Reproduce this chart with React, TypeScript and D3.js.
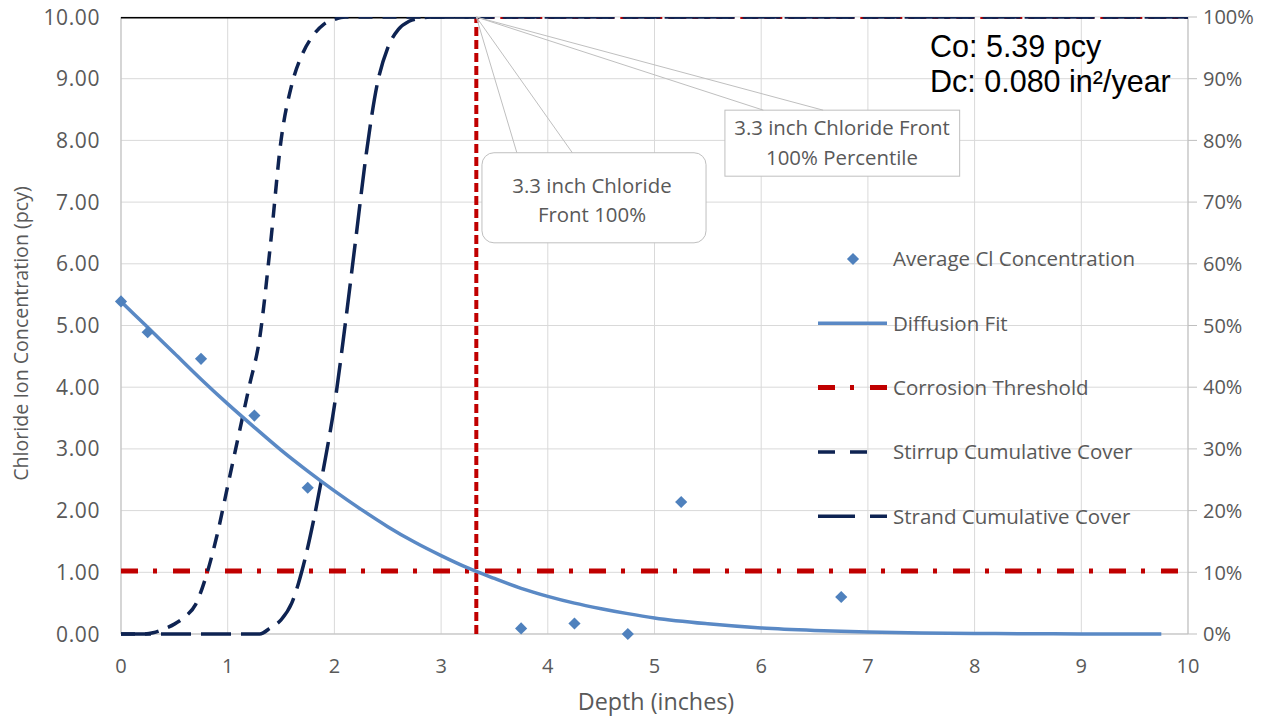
import * as d3 from "d3";

// measured average chloride content per depth
const sampleDepth = [0, 0.25, 0.75, 1.25, 1.75, 3.75, 4.25, 4.75, 5.25, 6.75];
const sampleConc = [5.39, 4.89, 4.46, 3.54, 2.37, 0.09, 0.17, 0.0, 2.14, 0.6];

// diffusion fit curve
const fitDepth = [0, 0.25, 0.5, 0.75, 1, 1.25, 1.5, 1.75, 2, 2.25, 2.5, 2.75, 3, 3.25, 3.5, 3.75, 4, 4.25, 4.5, 4.75, 5, 5.5, 6, 6.5, 7, 7.5, 8, 8.5, 9, 9.75];
const fitConc = [5.39, 4.97, 4.55, 4.13, 3.73, 3.35, 2.98, 2.64, 2.32, 2.02, 1.74, 1.49, 1.27, 1.07, 0.9, 0.74, 0.61, 0.5, 0.41, 0.33, 0.26, 0.165, 0.098, 0.058, 0.032, 0.017, 0.009, 0.004, 0.002, 0];

// cumulative cover distributions (right axis, %)
const cumDepth = [0, 0.1, 0.2, 0.3, 0.4, 0.5, 0.6, 0.7, 0.8, 0.9, 1.0, 1.1, 1.2, 1.3, 1.4, 1.5, 1.6, 1.7, 1.8, 1.9, 2.0, 2.1, 2.2, 2.3, 2.4, 2.5, 2.6, 2.7, 2.8, 2.9, 3.0, 4, 5, 6, 7, 8, 9, 10];
const stirrupPct = [0, 0, 0, 0.2, 0.8, 1.6, 2.8, 4.8, 9.5, 16, 24, 32, 40, 48, 63, 80, 89, 94, 97, 98.8, 99.6, 100, 100, 100, 100, 100, 100, 100, 100, 100, 100, 100, 100, 100, 100, 100, 100, 100];
const strandPct = [0, 0, 0, 0, 0, 0, 0, 0, 0, 0, 0, 0, 0, 0, 1.0, 2.3, 5, 10.5, 18, 27, 37, 50, 64, 78, 89, 95, 98, 99.3, 99.8, 100, 100, 100, 100, 100, 100, 100, 100, 100];

const threshold = 1.02;
const frontDepth = 3.33;
const Co = "5.39";
const Dc = "0.080";

const xTicks = [0, 1, 2, 3, 4, 5, 6, 7, 8, 9, 10];
const yTicks = [0, 1, 2, 3, 4, 5, 6, 7, 8, 9, 10];
const pctTicks = [0, 10, 20, 30, 40, 50, 60, 70, 80, 90, 100];

const legendItems = [
  "Average Cl Concentration",
  "Diffusion Fit",
  "Corrosion Threshold",
  "Stirrup Cumulative Cover",
  "Strand Cumulative Cover",
];

const W = 1268;
const H = 716;
const left = 121;
const right = 1188;
const top = 17;
const bottom = 634;

const blue = "#4f81bd";
const fitBlue = "#5a89c5";
const navy = "#0e2352";
const red = "#c00000";
const grid = "#d9d9d9";
const textGrey = "#595959";
const font = "'Open Sans', Lato, sans-serif";

export default function App() {
  const x = d3.scaleLinear().domain([0, 10]).range([left, right]);
  const y = d3.scaleLinear().domain([0, 10]).range([bottom, top]);
  const yPct = d3.scaleLinear().domain([0, 100]).range([bottom, top]);

  const fitLine = d3
    .line<number>()
    .x((d) => x(d))
    .y((_, i) => y(fitConc[i]))
    .curve(d3.curveMonotoneX);
  const cumLine = (vals: number[]) =>
    d3
      .line<number>()
      .x((d) => x(d))
      .y((_, i) => yPct(vals[i]))
      .curve(d3.curveMonotoneX)(cumDepth) || undefined;

  const diamond = d3.symbol(d3.symbolSquare, 74)() || undefined;

  const tipX = x(frontDepth);
  const tipY = y(10);

  // callout boxes (in data units so they sit with the chart)
  const b1 = { x0: x(3.383), x1: x(5.483), y0: y(7.8), y1: y(6.34) };
  const b2 = { x0: x(5.66), x1: x(7.86), y0: y(8.49), y1: y(7.42) };

  const legX = 818;
  const legY0 = 259;
  const legStep = 64.3;

  return (
    <svg
      width={W}
      height={H}
      style={{ position: "absolute", left: 0, top: 0, background: "#fff" }}
      fontFamily={font}
    >
      <defs>
        <clipPath id="plot">
          <rect x={left} y={top} width={right - left} height={bottom - top + 3} />
        </clipPath>
      </defs>
      {/* gridlines */}
      <g stroke={grid} strokeWidth={1}>
        {yTicks.map((t) => (
          <line key={"h" + t} x1={left} x2={right} y1={y(t)} y2={y(t)} />
        ))}
        {xTicks.map((t) => (
          <line key={"v" + t} x1={x(t)} x2={x(t)} y1={top} y2={bottom} />
        ))}
      </g>
      {/* axis lines */}
      <g stroke="#bfbfbf" strokeWidth={1}>
        <line x1={left} x2={left} y1={top} y2={bottom} />
        <line x1={right} x2={right} y1={top} y2={bottom} />
        <line x1={left} x2={right} y1={bottom} y2={bottom} />
        {pctTicks.map((t) => (
          <line key={t} x1={right} x2={right + 9} y1={yPct(t)} y2={yPct(t)} />
        ))}
      </g>

      {/* left ticks */}
      <g fill={textGrey} fontSize={21} letterSpacing={0.6} textAnchor="end">
        {yTicks.map((t) => (
          <text key={t} x={100} y={y(t)} dy="0.36em">
            {d3.format(".2f")(t)}
          </text>
        ))}
      </g>
      {/* right ticks */}
      <g fill={textGrey} fontSize={20} textAnchor="start">
        {pctTicks.map((t) => (
          <text key={t} x={1203} y={yPct(t)} dy="0.36em">
            {t + "%"}
          </text>
        ))}
      </g>
      {/* bottom ticks */}
      <g fill={textGrey} fontSize={20} textAnchor="middle">
        {xTicks.map((t) => (
          <text key={t} x={x(t)} y={673}>
            {t}
          </text>
        ))}
      </g>
      <text x={656} y={710} fill={textGrey} fontSize={23.3} textAnchor="middle">
        Depth (inches)
      </text>
      <text
        transform={`translate(28,${(top + bottom) / 2 + 8}) rotate(-90)`}
        fill={textGrey}
        fontSize={19.6}
        textAnchor="middle"
      >
        Chloride Ion Concentration (pcy)
      </text>

      <g clipPath="url(#plot)">
        {/* top edge */}
        <line x1={x(0)} x2={tipX} y1={tipY} y2={tipY} stroke="#000" strokeWidth={3} />
        <line x1={tipX} x2={x(10)} y1={tipY} y2={tipY} stroke={red} strokeWidth={4} strokeDasharray="6,6" />

        {/* corrosion threshold */}
        <line
          x1={x(0)}
          x2={x(10)}
          y1={y(threshold)}
          y2={y(threshold)}
          stroke={red}
          strokeWidth={5}
          strokeDasharray="17,15,4,16"
        />
        {/* chloride front */}
        <line x1={tipX} x2={tipX} y1={y(0)} y2={tipY} stroke={red} strokeWidth={4} strokeDasharray="9,4" />

        {/* cumulative covers */}
        <path d={cumLine(stirrupPct)} fill="none" stroke={navy} strokeWidth={3.5} strokeDasharray="14,10" />
        <path d={cumLine(strandPct)} fill="none" stroke={navy} strokeWidth={3.5} strokeDasharray="30,10" />

        {/* diffusion fit */}
        <path d={fitLine(fitDepth) || undefined} fill="none" stroke={fitBlue} strokeWidth={3.5} />
      </g>

      {/* samples */}
      <g fill={blue}>
        {sampleDepth.map((d, i) => (
          <path key={i} d={diamond} transform={`translate(${x(d)},${y(sampleConc[i])}) rotate(45)`} />
        ))}
      </g>

      {/* callouts */}
      <g stroke="#bfbfbf" strokeWidth={1} fill="#fff">
        <rect x={b1.x0} y={b1.y0} width={b1.x1 - b1.x0} height={b1.y1 - b1.y0} rx={12} />
        <rect x={b2.x0} y={b2.y0} width={b2.x1 - b2.x0} height={b2.y1 - b2.y0} />
      </g>
      <g stroke="#bfbfbf" strokeWidth={1} fill="none">
        <line x1={tipX} y1={tipY} x2={x(3.71)} y2={b1.y0} />
        <line x1={tipX} y1={tipY} x2={x(4.23)} y2={b1.y0} />
        <line x1={tipX} y1={tipY} x2={x(6.02)} y2={b2.y0} />
        <line x1={tipX} y1={tipY} x2={x(6.58)} y2={b2.y0} />
      </g>
      <g fill={textGrey} fontSize={20.4} textAnchor="middle">
        <text x={592} y={193}>3.3 inch Chloride</text>
        <text x={592} y={222}>Front 100%</text>
        <text x={842} y={135}>3.3 inch Chloride Front</text>
        <text x={842} y={165}>100% Percentile</text>
      </g>

      {/* Co / Dc */}
      <g fill="#000" fontSize={30.5} fontFamily="'Liberation Sans', Arial, sans-serif">
        <text x={930} y={57}>Co: {Co} pcy</text>
        <text x={930} y={92}>
          Dc: {Dc} in<tspan>²</tspan>/year
        </text>
      </g>

      {/* legend */}
      <g fontSize={20.5} fill={textGrey}>
        {legendItems.map((name, i) => {
          const ly = legY0 + i * legStep;
          return (
            <g key={name}>
              {i === 0 && <path d={diamond} fill={blue} transform={`translate(853,${ly}) rotate(45)`} />}
              {i === 1 && <line x1={legX} x2={887} y1={ly} y2={ly} stroke={fitBlue} strokeWidth={3.5} />}
              {i === 2 && (
                <line x1={legX} x2={887} y1={ly} y2={ly} stroke={red} strokeWidth={5} strokeDasharray="17,15,4,16" />
              )}
              {i === 3 && (
                <line x1={legX} x2={868} y1={ly} y2={ly} stroke={navy} strokeWidth={3.5} strokeDasharray="17,15" />
              )}
              {i === 4 && (
                <line x1={legX} x2={887} y1={ly} y2={ly} stroke={navy} strokeWidth={3.5} strokeDasharray="37,15" />
              )}
              <text x={893} y={ly} dy="0.36em">
                {name}
              </text>
            </g>
          );
        })}
      </g>
    </svg>
  );
}
